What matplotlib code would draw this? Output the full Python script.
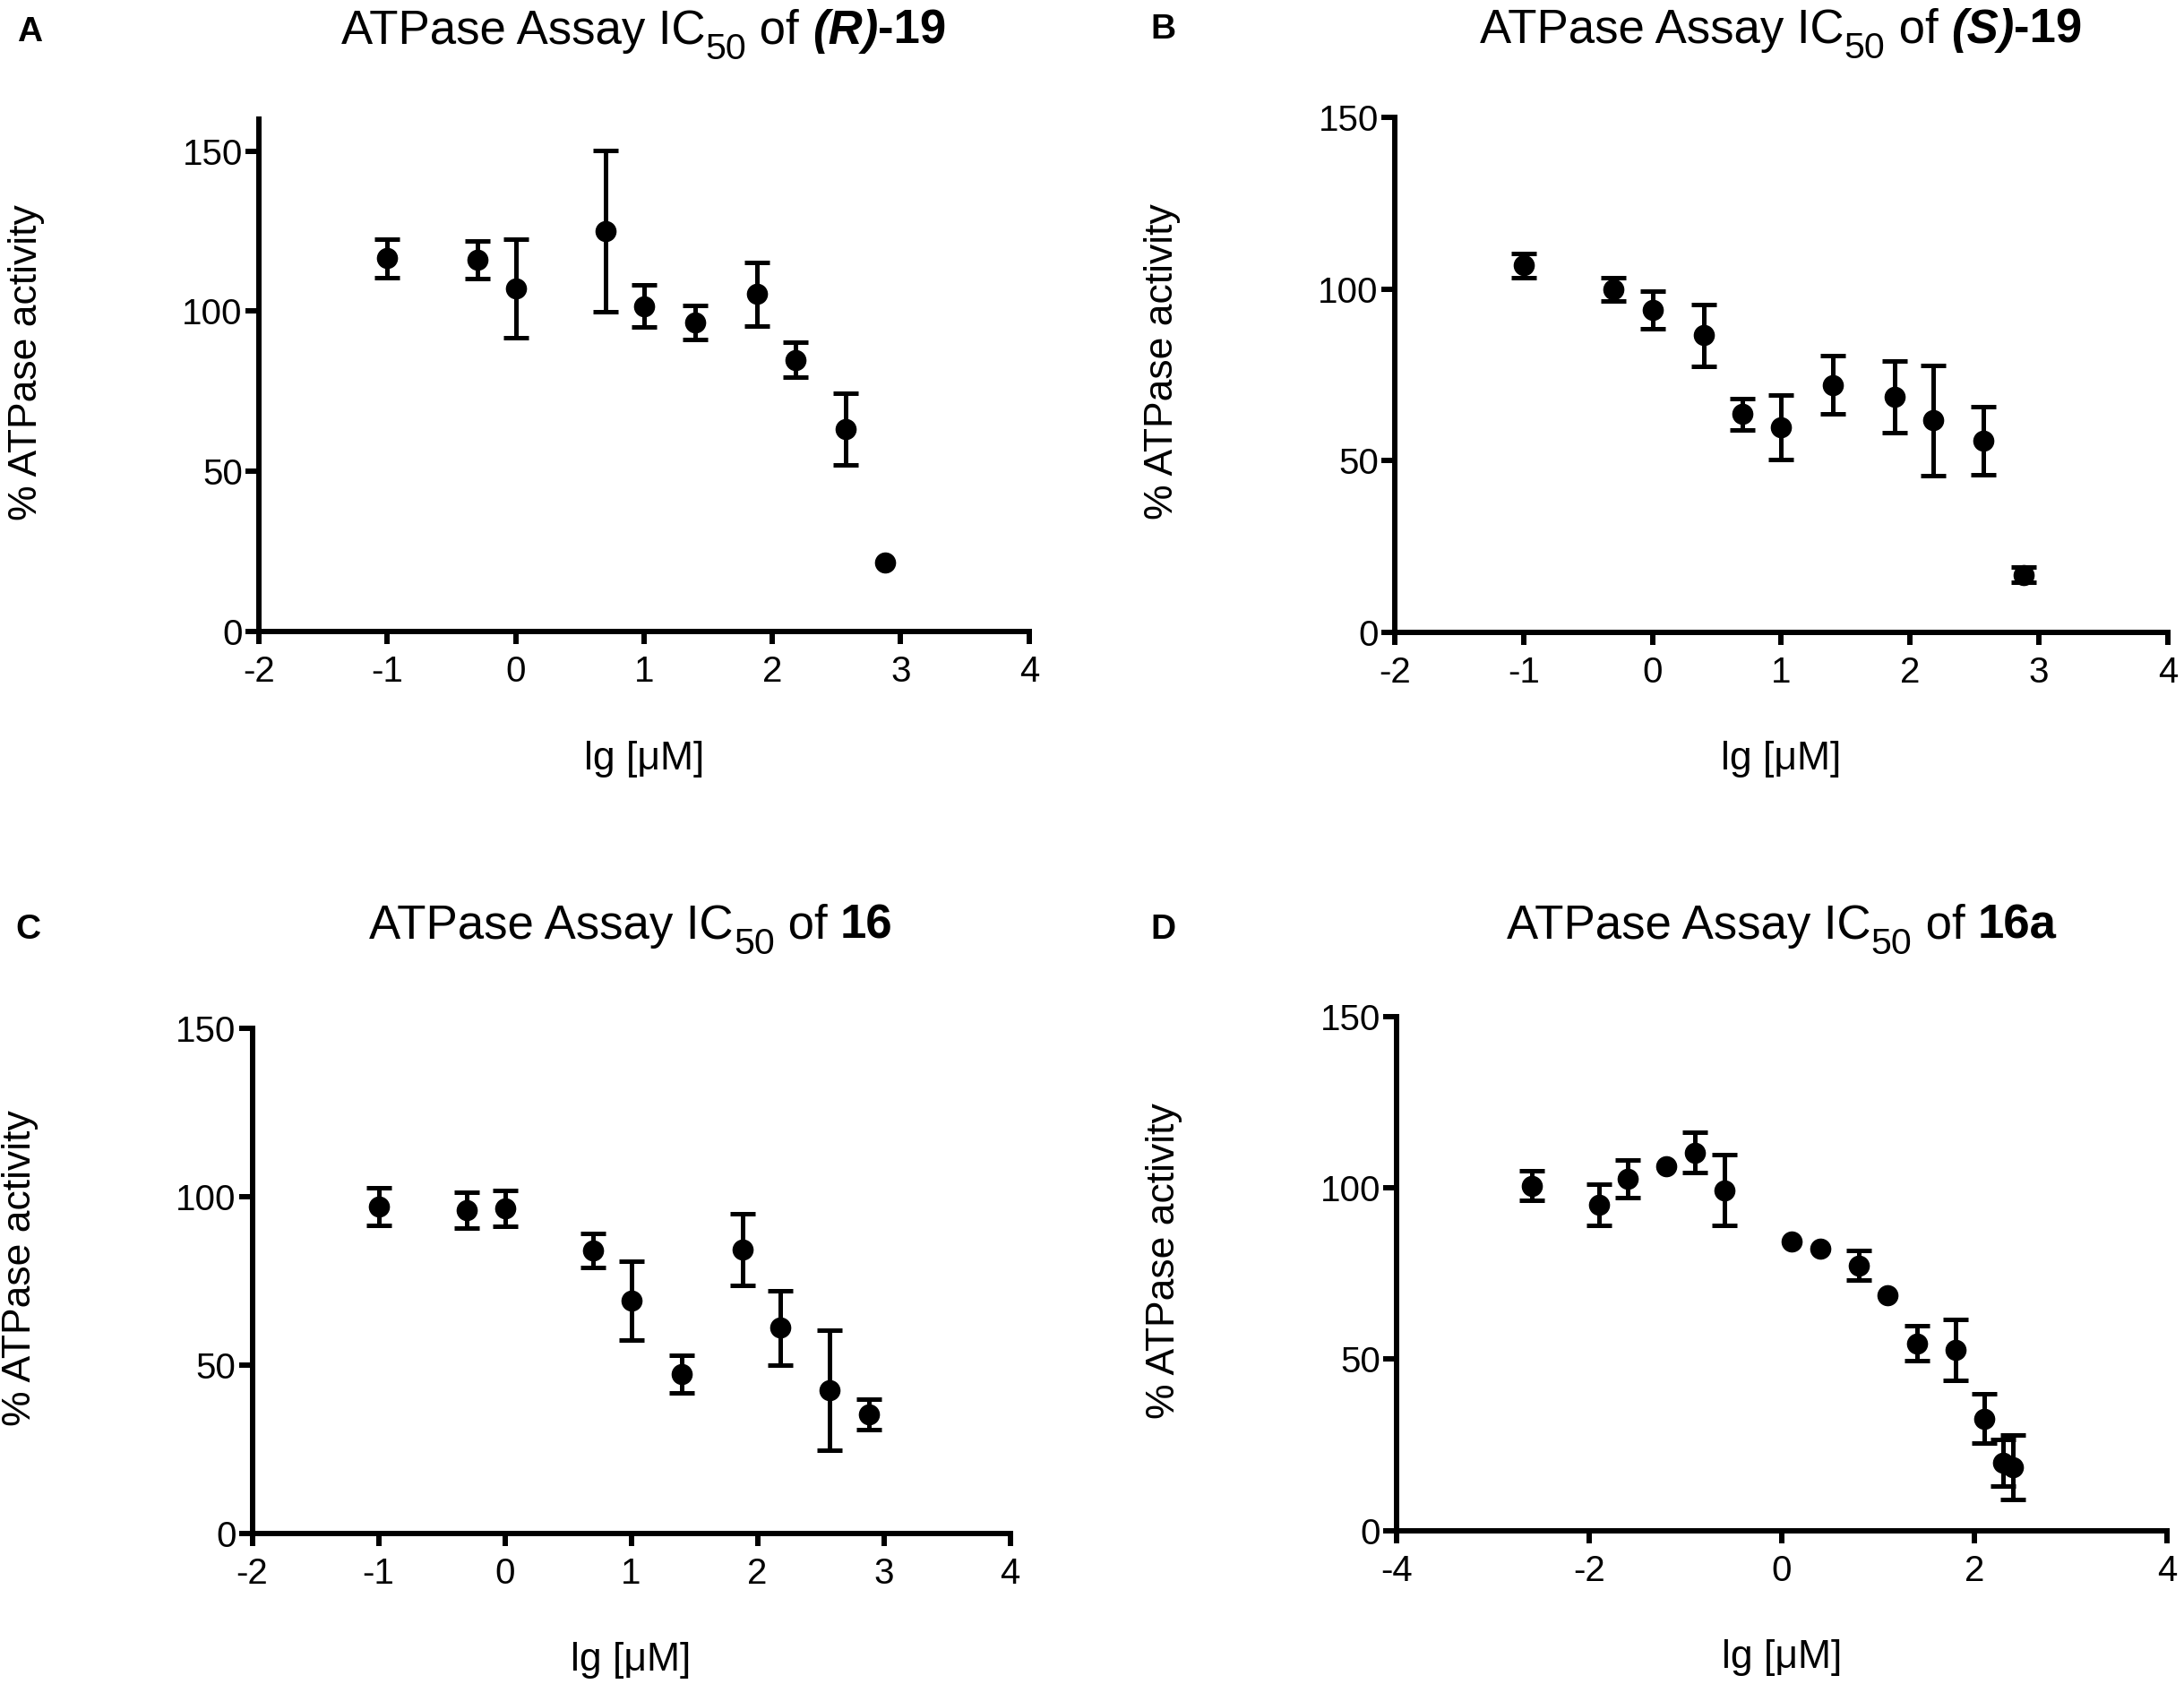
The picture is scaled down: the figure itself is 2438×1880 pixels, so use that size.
import matplotlib
matplotlib.use("Agg")
import numpy as np
import matplotlib.pyplot as plt

# --- data (lg concentration, % activity, error) ---
xA = [-1, -0.3, 0, 0.7, 1, 1.4, 1.88, 2.18, 2.57, 2.88]
yA = [116.5, 116, 107.2, 125, 101.6, 96.5, 105.3, 84.8, 63.2, 21.5]
eA = [6.1, 5.9, 15.4, 25.2, 6.6, 5.3, 9.8, 5.5, 11.3, 0]

xB = [-1, -0.3, 0, 0.4, 0.7, 1, 1.4, 1.88, 2.18, 2.57, 2.88]
yB = [106.8, 99.9, 93.9, 86.5, 63.5, 59.6, 72.1, 68.6, 61.7, 55.8, 16.8]
eB = [3.5, 3.4, 5.5, 9.0, 4.5, 9.4, 8.6, 10.4, 16.1, 10.0, 2.3]

xC = [-1, -0.3, 0, 0.7, 1, 1.4, 1.88, 2.18, 2.57, 2.88]
yC = [97, 96, 96.4, 84, 69.1, 47.3, 84.2, 61, 42.4, 35.2]
eC = [5.5, 5.3, 5.4, 5.0, 11.7, 5.6, 10.6, 11.0, 17.8, 4.6]

xD = [-2.6, -1.9, -1.6, -1.2, -0.9, -0.6, 0.1, 0.4, 0.8, 1.1, 1.4, 1.8, 2.1, 2.3, 2.4]
yD = [100.7, 95.2, 102.8, 106.3, 110.4, 99.4, 84.4, 82.4, 77.4, 68.6, 54.6, 52.7, 32.7, 19.8, 18.5]
eD = [4.3, 6.0, 5.5, 0, 5.9, 10.3, 0, 0, 4.4, 0, 5.1, 9.0, 7.1, 6.8, 9.4]

letters = ["A", "B", "C", "D"]
compounds = [
    [("(R)", "bolditalic"), ("-19", "bold")],
    [("(S)", "bolditalic"), ("-19", "bold")],
    [("16", "bold")],
    [("16a", "bold")],
]
xlims = [(-2, 4), (-2, 4), (-2, 4), (-4, 4)]
ylims = [(0, 160), (0, 150), (0, 150), (0, 150)]

plt.rcParams["font.family"] = ["Liberation Sans", "DejaVu Sans"]
plt.rcParams["axes.unicode_minus"] = False

W, H = 2438, 1880
fig = plt.figure(figsize=(W / 100, H / 100), dpi=100)

positions = [
    [0.1185, 0.625, 0.3527, 0.3043],
    [0.6386, 0.6245, 0.354, 0.3059],
    [0.1155, 0.0896, 0.347, 0.300],
    [0.6395, 0.0912, 0.3527, 0.305],
]
title_y = [0.974, 0.9745, 0.4426, 0.4426]
letter_pos = [(0.008, 0.9755), (0.527, 0.977), (0.007, 0.4426), (0.527, 0.4426)]

data = [(xA, yA, eA), (xB, yB, eB), (xC, yC, eC), (xD, yD, eD)]


def rich_text(xc, y, parts, size):
    """Draw text pieces side by side, centred at xc (figure fraction)."""
    r = fig.canvas.get_renderer()
    texts, drops = [], []
    for s, style in parts:
        kw = {}
        fs = size
        drop = 0
        if "bold" in style:
            kw["fontweight"] = "bold"
        if "italic" in style:
            kw["fontstyle"] = "italic"
        if style == "sub":
            fs = size * 0.78
            drop = 17 / H
        texts.append(fig.text(0, y - drop, s, fontsize=fs, va="baseline", ha="left", **kw))
    widths = [t.get_window_extent(r).width for t in texts]
    total = sum(widths)
    x0 = xc * W - total / 2
    for t, w in zip(texts, widths):
        t.set_x(x0 / W)
        x0 += w


for i, ax_pos in enumerate(positions):
    ax = fig.add_axes(ax_pos)
    x, y, e = (np.array(v, dtype=float) for v in data[i])
    has = e > 0
    ax.errorbar(x[has], y[has], yerr=e[has], fmt="none", ecolor="black",
                elinewidth=3.6, capsize=10, capthick=3.6)
    ax.plot(x, y, "o", color="black", ms=16, zorder=3)

    ax.set_xlim(*xlims[i])
    ax.set_ylim(*ylims[i])
    lo, hi = xlims[i]
    step = 1 if hi - lo == 6 else 2
    ax.set_xticks(np.arange(lo, hi + 0.1, step))
    ax.set_yticks([0, 50, 100, 150])
    for s in ["top", "right"]:
        ax.spines[s].set_visible(False)
    for s in ["left", "bottom"]:
        ax.spines[s].set_linewidth(4.3)
    ax.tick_params(axis="both", width=4.3, labelsize=29, direction="out")
    ax.tick_params(axis="y", length=11, pad=2)
    ax.tick_params(axis="x", length=10, pad=9)

    ax.set_ylabel("% ATPase activity", fontsize=32)
    ax.yaxis.set_label_coords(-(239 / W) / ax_pos[2], 0.525)
    ax.set_xlabel("lg [μM]", fontsize=32, va="center")
    ax.xaxis.set_label_coords(0.5, -(142 / H) / ax_pos[3])

    xc = ax_pos[0] + ax_pos[2] / 2
    parts = ([("ATPase Assay IC", "normal"), ("50", "sub"), (" of\u00a0", "normal")]
             + compounds[i])
    rich_text(xc, title_y[i], parts, 38)

    lx, ly = letter_pos[i]
    fig.text(lx, ly, letters[i], fontsize=28, fontweight="bold", va="baseline", ha="left")

fig.savefig("out.png", dpi=100)
